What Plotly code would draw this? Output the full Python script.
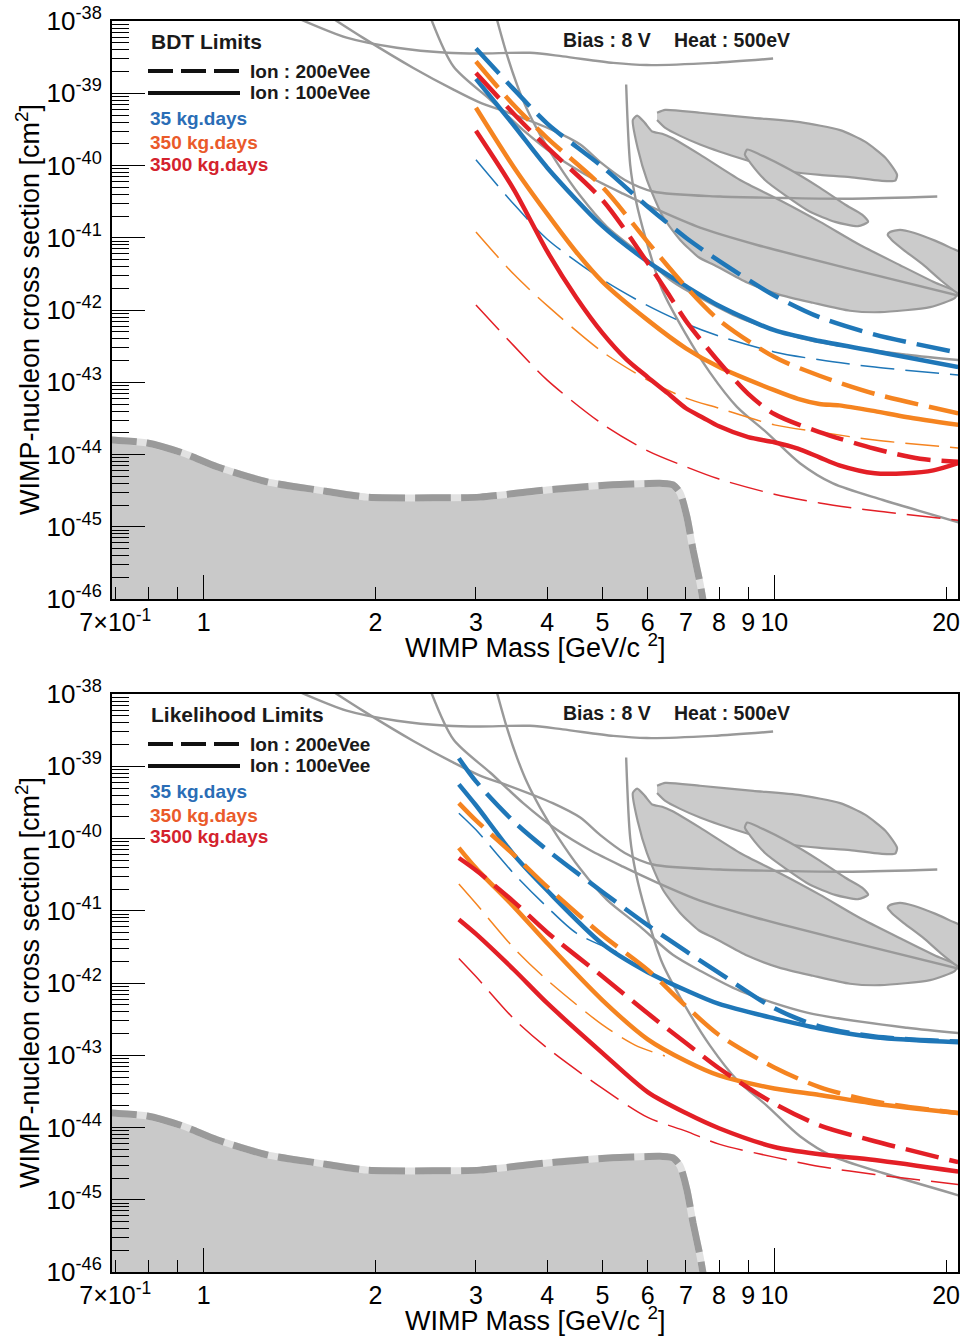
import plotly.graph_objects as go

# ------------------------------------------------------------------
# DATA  (WIMP mass in GeV/c^2, log10 of WIMP-nucleon cross-section in cm^2)
# ------------------------------------------------------------------
# --- BDT limits (upper panel) ---
M_BDT = [3, 3.5, 4, 5, 6, 7, 8, 10, 12, 15, 21]
bdt_200_35 = [-38.38, -38.95, -39.42, -40.02, -40.57, -41.00, -41.32, -41.80, -42.10, -42.34, -42.59]
bdt_200_350 = [-38.56, -39.17, -39.62, -40.30, -41.06, -41.68, -42.14, -42.65, -42.91, -43.16, -43.43]
M_BDT_200_3500 = [3, 3.5, 4, 5, 6, 6.5, 7, 8, 9, 10, 12, 15, 18, 21]
bdt_200_3500 = [-38.72, -39.29, -39.75, -40.48, -41.35, -41.76, -42.15, -42.72, -43.16, -43.44, -43.69, -43.92, -44.06, -44.10]
bdt_100_35 = [-38.80, -39.45, -40.03, -40.84, -41.33, -41.67, -41.94, -42.28, -42.43, -42.57, -42.79]
M_BDT_100_350 = [3, 3.5, 4, 4.5, 5, 6, 7, 8, 10, 11, 12, 13, 15, 17, 21]
bdt_100_350 = [-39.20, -40.03, -40.67, -41.20, -41.61, -42.14, -42.53, -42.79, -43.11, -43.23, -43.30, -43.32, -43.40, -43.48, -43.59]
M_BDT_100_3500 = [3, 3.5, 4, 4.5, 5, 5.5, 6, 6.5, 7, 7.5, 8, 9, 10, 11, 12, 13, 15, 17, 19, 21]
bdt_100_3500 = [-39.52, -40.34, -41.19, -41.83, -42.32, -42.68, -42.93, -43.15, -43.36, -43.49, -43.61, -43.76, -43.83, -43.92, -44.04, -44.15, -44.26, -44.26, -44.22, -44.12]
bdt_thin_35 = [-39.92, -40.54, -41.02, -41.58, -41.94, -42.19, -42.36, -42.58, -42.69, -42.79, -42.90]
bdt_thin_350 = [-40.92, -41.51, -41.94, -42.58, -42.97, -43.22, -43.36, -43.59, -43.69, -43.80, -43.91]
bdt_thin_3500 = [-41.93, -42.50, -42.97, -43.58, -43.95, -44.17, -44.34, -44.55, -44.67, -44.78, -44.91]

# --- Likelihood limits (lower panel) ---
M_LH = [2.8, 3, 3.5, 4, 5, 6, 7, 8, 10, 12, 15, 21]
lh_200_35 = [-38.89, -39.21, -39.77, -40.16, -40.74, -41.20, -41.56, -41.86, -42.35, -42.60, -42.74, -42.81]
lh_100_35 = [-39.25, -39.54, -40.23, -40.72, -41.46, -41.85, -42.10, -42.29, -42.49, -42.63, -42.75, -42.82]
lh_200_350 = [-39.51, -39.75, -40.23, -40.67, -41.34, -41.82, -42.32, -42.72, -43.17, -43.44, -43.64, -43.80]
lh_100_350 = [-40.13, -40.41, -40.95, -41.45, -42.24, -42.78, -43.08, -43.28, -43.46, -43.55, -43.67, -43.80]
lh_200_3500 = [-40.27, -40.44, -40.88, -41.30, -41.91, -42.42, -42.83, -43.18, -43.67, -43.97, -44.19, -44.48]
lh_100_3500 = [-41.12, -41.32, -41.82, -42.28, -42.97, -43.51, -43.80, -44.01, -44.27, -44.37, -44.45, -44.61]
M_LH_THIN_35 = [2.8, 3, 3.5, 4, 4.5, 5.3]
lh_thin_35 = [-39.65, -39.88, -40.49, -40.95, -41.31, -41.57]
M_LH_THIN_350 = [2.8, 3, 3.5, 4, 5, 5.7, 6.43]
lh_thin_350 = [-40.63, -40.90, -41.52, -41.96, -42.58, -42.86, -43.01]
lh_thin_3500 = [-41.66, -41.91, -42.50, -42.90, -43.46, -43.86, -44.05, -44.23, -44.41, -44.54, -44.65, -44.79]

# --- other experiments (grey, identical in both panels) ---
g1_m = [1.46, 1.78, 2.18, 2.67, 3.05, 3.73, 4.26, 5.22, 5.98, 7.81, 9.95]
g1_s = [-37.96, -38.23, -38.37, -38.44, -38.45, -38.44, -38.49, -38.58, -38.61, -38.58, -38.52]
g2_m = [1.68, 1.90, 2.33, 2.74, 3.05, 3.40, 4.09, 4.57, 4.95, 5.47, 6.13, 8.03, 10.5, 13.7, 19.3]
g2_s = [-37.96, -38.23, -38.65, -38.95, -39.13, -39.26, -39.51, -39.71, -39.95, -40.20, -40.36, -40.43, -40.45, -40.46, -40.43]
g3_m = [2.50, 2.74, 3.18, 3.63, 4.16, 4.75, 5.43, 6.23, 7.41, 9.33, 13.41, 21.5]
g3_s = [-37.96, -38.63, -39.09, -39.51, -39.88, -40.16, -40.39, -40.61, -40.86, -41.10, -41.42, -41.82]
g4_m = [3.26, 3.40, 3.54, 3.69, 3.89, 4.16, 4.57, 5.09, 5.82, 6.64, 7.41, 8.71, 11.41, 17.08, 21.5]
g4_s = [-37.96, -38.47, -38.88, -39.23, -39.58, -39.96, -40.42, -40.85, -41.22, -41.61, -41.83, -42.11, -42.41, -42.62, -42.70]
g5_m = [5.50, 5.59, 5.72, 5.96, 6.36, 6.98, 7.72, 8.60, 9.71, 11.09, 12.67, 15.50, 21.5]
g5_s = [-38.88, -39.99, -40.48, -41.03, -41.72, -42.32, -42.87, -43.34, -43.70, -44.12, -44.40, -44.63, -44.96]

blobA_m = [6.23, 6.44, 7.41, 9.18, 11.09, 13.04, 14.42, 15.64, 16.41, 16.28, 15.32, 13.57, 12.03, 10.78, 9.83, 8.88, 8.03, 7.41, 6.84, 6.44, 6.23]
blobA_s = [-39.27, -39.23, -39.27, -39.34, -39.40, -39.51, -39.67, -39.89, -40.13, -40.21, -40.21, -40.16, -40.13, -40.09, -40.02, -39.92, -39.81, -39.71, -39.59, -39.48, -39.37]
blobB_m = [8.96, 9.44, 10.66, 12.03, 13.30, 14.25, 14.60, 14.02, 12.78, 11.55, 10.44, 9.63, 9.07, 8.88, 8.96]
blobB_s = [-39.78, -39.85, -40.06, -40.31, -40.54, -40.68, -40.78, -40.84, -40.78, -40.64, -40.41, -40.20, -39.96, -39.85, -39.78]
blobC_m = [5.65, 5.75, 5.93, 6.11, 6.36, 6.62, 7.41, 8.71, 10.23, 12.03, 14.13, 16.61, 19.12, 20.9, 20.74, 18.75, 15.32, 13.57, 11.69, 10.23, 8.96, 7.86, 7.37, 6.84, 6.38, 5.98, 5.77, 5.65]
blobC_s = [-39.37, -39.31, -39.41, -39.53, -39.56, -39.62, -39.85, -40.20, -40.48, -40.78, -41.10, -41.38, -41.62, -41.76, -41.83, -41.96, -42.03, -42.01, -41.90, -41.79, -41.62, -41.38, -41.27, -41.03, -40.71, -40.20, -39.78, -39.37]
blobD_m = [15.95, 16.61, 17.55, 19.12, 20.38, 21.65, 21.65, 20.9, 19.52, 18.27, 16.86, 16.06, 15.80, 15.95]
blobD_s = [-40.92, -40.89, -40.93, -41.04, -41.14, -41.25, -41.79, -41.76, -41.58, -41.38, -41.17, -41.03, -40.96, -40.92]

floor_m = [0.66, 0.69, 0.796, 0.92, 1.055, 1.291, 1.579, 1.933, 2.522, 3.05, 3.996, 5.216, 6.381, 6.643, 6.834, 7.031, 7.203, 7.41, 7.55]
floor_s = [-43.78, -43.80, -43.84, -43.98, -44.17, -44.38, -44.49, -44.59, -44.60, -44.59, -44.49, -44.42, -44.40, -44.42, -44.53, -44.87, -45.32, -45.78, -46.15]

# axis ticks
x_tickvals = [0.7, 0.8, 0.9, 1, 2, 3, 4, 5, 6, 7, 8, 9, 10, 20]
x_ticktext = ["7×10<sup>-1</sup>", "", "", "1", "2", "3", "4", "5", "6", "7", "8", "9", "10", "20"]
x_long = [1, 10]
y_decades = list(range(-46, -37))

# ------------------------------------------------------------------
W, H = 961, 1336
L, R, T, B = 112, 3, 21, 64
PW = W - L - R
PH = H - T - B


def xp(px):
    return (px - L) / PW


def yp(py):
    return (H - B - py) / PH


BLUE, ORANGE, RED = "#1f77b8", "#f58420", "#e31f26"
GREY, GREY_FILL = "#999999", "#cbcbcb"
FONT = "Liberation Sans, Arial, Helvetica, sans-serif"

fig = go.Figure()


def pw(v):
    return [10.0 ** s for s in v]


def line(panel, m, s, color, width, dash=None, smooth=0.8):
    ax = "" if panel == 1 else "2"
    fig.add_trace(go.Scatter(
        x=m, y=pw(s), mode="lines", xaxis="x" + ax, yaxis="y" + ax,
        line=dict(color=color, width=width, dash=dash, shape="spline", smoothing=smooth),
        hoverinfo="skip", showlegend=False))


def blob(panel, m, s):
    ax = "" if panel == 1 else "2"
    fig.add_trace(go.Scatter(
        x=m, y=pw(s), mode="lines", fill="toself", fillcolor=GREY_FILL,
        xaxis="x" + ax, yaxis="y" + ax,
        line=dict(color=GREY, width=2.2, shape="spline", smoothing=0.6),
        hoverinfo="skip", showlegend=False))


for p in (1, 2):
    ax = "" if p == 1 else "2"
    # bottom shaded region with dashed edge
    fig.add_trace(go.Scatter(
        x=floor_m + [7.6, 0.66], y=pw(floor_s + [-47, -47]), mode="lines", fill="toself",
        fillcolor="#c9c9c9", line=dict(width=0, color="#c9c9c9", shape="spline", smoothing=0.6),
        xaxis="x" + ax, yaxis="y" + ax, hoverinfo="skip", showlegend=False))
    line(p, floor_m, floor_s, "#e2e2e2", 7, None, 0.6)
    line(p, floor_m, floor_s, "#9a9a9a", 7, "36px,10px", 0.6)
    # closed contours
    blob(p, blobA_m, blobA_s)
    blob(p, blobC_m, blobC_s)
    blob(p, blobB_m, blobB_s)
    blob(p, blobD_m, blobD_s)
    # grey limit curves
    for gm, gs in ((g1_m, g1_s), (g2_m, g2_s), (g3_m, g3_s), (g4_m, g4_s), (g5_m, g5_s)):
        line(p, gm, gs, GREY, 2.4)

TH, TK = 1.5, 4.5
DASH = "34px,11px"
# upper panel: BDT
line(1, M_BDT, bdt_thin_35, BLUE, TH, DASH)
line(1, M_BDT, bdt_thin_350, ORANGE, TH, DASH)
line(1, M_BDT, bdt_thin_3500, RED, TH, DASH)
line(1, M_BDT, bdt_100_35, BLUE, TK)
line(1, M_BDT_100_350, bdt_100_350, ORANGE, TK)
line(1, M_BDT_100_3500, bdt_100_3500, RED, TK)
line(1, M_BDT, bdt_200_35, BLUE, TK, DASH)
line(1, M_BDT, bdt_200_350, ORANGE, TK, DASH)
line(1, M_BDT_200_3500, bdt_200_3500, RED, TK, DASH)
# lower panel: Likelihood
line(2, M_LH_THIN_35, lh_thin_35, BLUE, TH, DASH)
line(2, M_LH_THIN_350, lh_thin_350, ORANGE, TH, DASH)
line(2, M_LH, lh_thin_3500, RED, TH, DASH)
line(2, M_LH, lh_100_35, BLUE, TK)
line(2, M_LH, lh_100_350, ORANGE, TK)
line(2, M_LH, lh_100_3500, RED, TK)
line(2, M_LH, lh_200_35, BLUE, TK, DASH)
line(2, M_LH, lh_200_350, ORANGE, TK, DASH)
line(2, M_LH, lh_200_3500, RED, TK, DASH)

# ------------------------------------------------------------------
xaxis_common = dict(
    type="log", range=[-0.1607, 1.3219], showgrid=False, zeroline=False, automargin=False,
    showline=True, linecolor="black", linewidth=2, mirror=True,
    ticks="inside", ticklen=12, tickwidth=1.4, tickcolor="black",
    tickmode="array", tickvals=x_tickvals, ticktext=x_ticktext,
    tickfont=dict(family=FONT, size=25, color="black"), ticklabelstandoff=0,
    minor=dict(ticks="inside", ticklen=24, tickwidth=1.4, tickcolor="black",
               tickmode="array", tickvals=x_long, showgrid=False),
)
yaxis_common = dict(
    type="log", range=[-46, -38], showgrid=False, zeroline=False, automargin=False,
    showline=True, linecolor="black", linewidth=2, mirror=True,
    ticks="inside", ticklen=33, tickwidth=1.4, tickcolor="black",
    tickmode="array", tickvals=[10.0 ** d for d in y_decades],
    ticktext=["10<sup>%d</sup>" % d for d in y_decades],
    tickfont=dict(family=FONT, size=26, color="black"), ticklabelstandoff=3,
    minor=dict(ticks="inside", ticklen=17, tickwidth=1.2, tickcolor="black",
               tickmode="array",
               tickvals=[k * 10.0 ** d for d in y_decades[:-1] for k in range(2, 10)],
               showgrid=False),
)

fig.update_layout(
    width=W, height=H, margin=dict(l=L, r=R, t=T, b=B, autoexpand=False),
    paper_bgcolor="white", plot_bgcolor="white",
    font=dict(family=FONT, color="black"),
    xaxis=dict(domain=[0, 1], anchor="y", **xaxis_common),
    yaxis=dict(domain=[yp(599), 1], anchor="x", **yaxis_common),
    xaxis2=dict(domain=[0, 1], anchor="y2", **xaxis_common),
    yaxis2=dict(domain=[0, yp(694)], anchor="x2", **yaxis_common),
)

ann = []
shapes = []
for off, title in ((0, "BDT Limits"), (673, "Likelihood Limits")):
    ann.append(dict(text="<b>%s</b>" % title, x=xp(149), y=yp(41 + off), xanchor="left", yanchor="middle",
                    font=dict(size=21, color="#1a1a1a")))
    ann.append(dict(text="<b>Bias : 8 V</b>", x=xp(561), y=yp(40 + off), xanchor="left", yanchor="middle",
                    font=dict(size=19.5, color="#1a1a1a")))
    ann.append(dict(text="<b>Heat : 500eV</b>", x=xp(672), y=yp(40 + off), xanchor="left", yanchor="middle",
                    font=dict(size=19.5, color="#1a1a1a")))
    ann.append(dict(text="<b>Ion : 200eVee</b>", x=xp(248), y=yp(71 + off), xanchor="left", yanchor="middle",
                    font=dict(size=19, color="#1a1a1a")))
    ann.append(dict(text="<b>Ion : 100eVee</b>", x=xp(248), y=yp(93 + off), xanchor="left", yanchor="middle",
                    font=dict(size=19, color="#1a1a1a")))
    for yy, txt, col in ((119, "35 kg.days", "#2a6db6"), (142, "350 kg.days", "#ea5a2a"),
                         (164, "3500 kg.days", "#d4222d")):
        ann.append(dict(text="<b>%s</b>" % txt, x=xp(148), y=yp(yy + off), xanchor="left", yanchor="middle",
                        font=dict(size=19, color=col)))
    shapes.append(dict(type="line", xref="paper", yref="paper", x0=xp(148), x1=xp(240),
                       y0=yp(71 + off), y1=yp(71 + off), line=dict(color="#111111", width=4, dash="25px,8px")))
    shapes.append(dict(type="line", xref="paper", yref="paper", x0=xp(148), x1=xp(240),
                       y0=yp(93 + off), y1=yp(93 + off), line=dict(color="#111111", width=4)))
    # axis titles
    ann.append(dict(text="WIMP Mass [GeV/c <sup>2</sup>]", x=xp(535), y=yp(646 + off), xanchor="center",
                    yanchor="middle", font=dict(size=27, color="black")))
    ann.append(dict(text="WIMP-nucleon cross section [cm<sup>2</sup>]", x=xp(28), y=yp(310 + off),
                    xanchor="center", yanchor="middle", textangle=-90, font=dict(size=27, color="black")))

for a in ann:
    a.update(xref="paper", yref="paper", showarrow=False)
fig.update_layout(annotations=ann, shapes=shapes)

fig.write_html("out.html", config={"displayModeBar": False},
               post_script="document.body.style.margin='0';document.body.style.padding='0';"
                           "document.body.style.overflow='hidden';")
